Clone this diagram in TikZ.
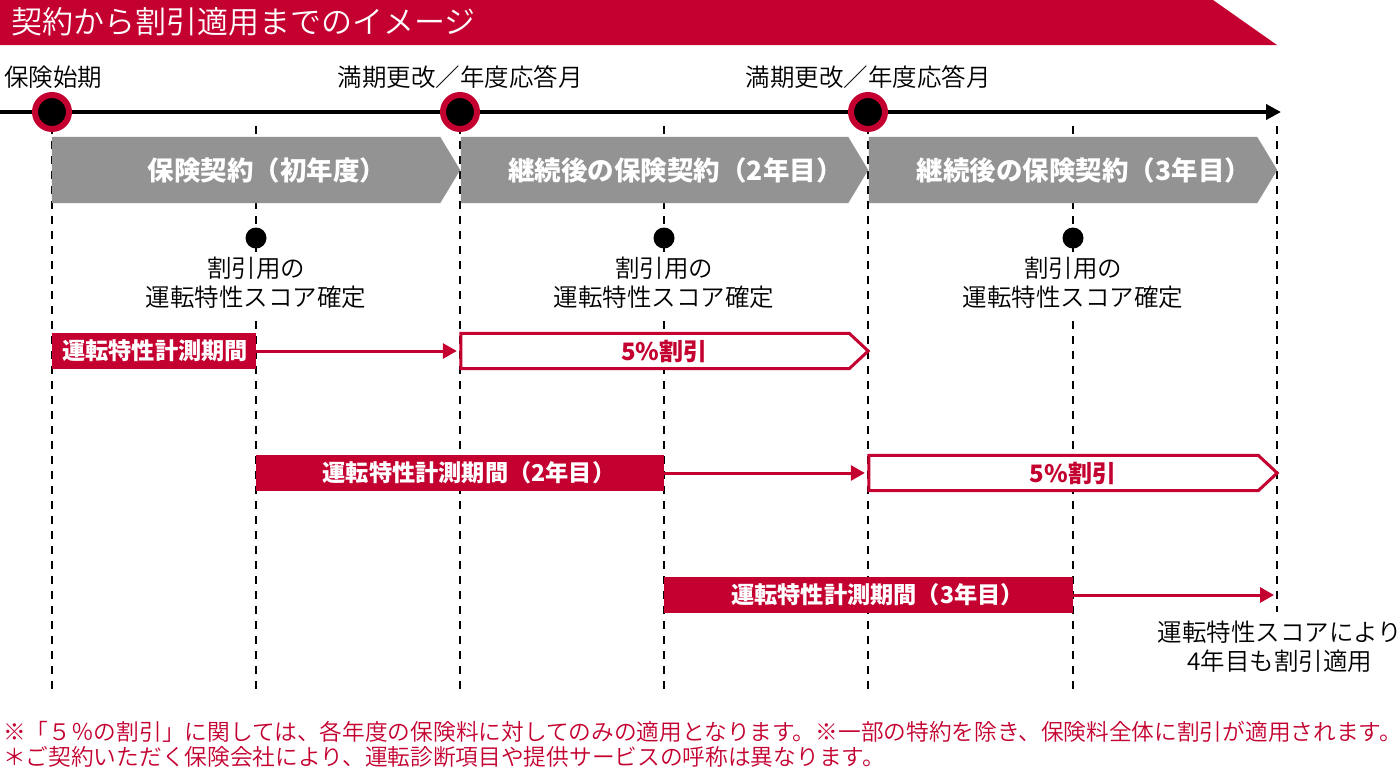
\documentclass[tikz,border=0pt]{standalone}
\usepackage{fontspec}
\setmainfont{Noto Sans CJK JP}
\IfFontExistsTF{Noto Sans CJK JP DemiLight}
  {\newfontfamily\lightjp{Noto Sans CJK JP DemiLight}}
  {\newfontfamily\lightjp{Noto Sans CJK JP}}
\usetikzlibrary{arrows.meta}
\definecolor{brand}{RGB}{196,0,48}
\definecolor{chevgray}{RGB}{147,147,147}
\pgfdeclarelayer{gridlayer}
\pgfdeclarelayer{shapelayer}
\pgfsetlayers{gridlayer,shapelayer,main}
\tikzset{
  titletext/.style={anchor=west,text=white,inner sep=0pt,font=\lightjp\fontsize{31}{31}\selectfont},
  lbl/.style={align=center,inner sep=0pt,font=\lightjp\fontsize{24.5}{29}\selectfont},
  scorelbl/.style={lbl,fill=white,inner xsep=2pt,inner ysep=5pt},
  foot/.style={anchor=west,inner sep=0pt,text=brand,font=\lightjp\fontsize{22.7}{26}\selectfont},
  gridline/.style={line width=1.8pt,dash pattern=on 8pt off 7pt},
  marker/.style={circle,fill=black,draw=brand,line width=6pt,minimum size=34pt,inner sep=0pt},
  fixdot/.style={circle,fill=black,minimum size=21pt,inner sep=0pt},
  chevbox/.style={minimum height=66pt,inner sep=0pt},
  chevtext/.style={inner sep=0pt,text=white,font=\bfseries\fontsize{26.5}{26.5}\selectfont},
  measbox/.style={fill=brand,minimum height=36pt,inner sep=0pt},
  meastext/.style={inner sep=0pt,text=white,font=\bfseries\fontsize{23.2}{23.2}\selectfont},
  disc/.style={minimum height=35pt,inner sep=0pt,text=brand,font=\bfseries\fontsize{24}{24}\selectfont},
  redarrow/.style={draw=brand,line width=3pt,-{Triangle[length=14pt,width=15pt]}},
}
\newcommand{\graychev}[1]{%
  \begin{pgfonlayer}{shapelayer}
  \fill[chevgray] (#1.north west) -- ([xshift=-20pt]#1.north east) -- (#1.east)
    -- ([xshift=-20pt]#1.south east) -- (#1.south west) -- cycle;
  \end{pgfonlayer}}
\newcommand{\outlinechev}[1]{%
  \begin{pgfonlayer}{shapelayer}
  \filldraw[fill=white,draw=brand,line width=3pt,line join=miter]
    (#1.north west) -- ([xshift=-19pt]#1.north east) -- (#1.east)
    -- ([xshift=-19pt]#1.south east) -- (#1.south west) -- cycle;
  \end{pgfonlayer}}
\begin{document}
\begin{tikzpicture}[x=1pt,y=-1pt]
\useasboundingbox (0,0) rectangle (1400,772);
\begin{pgfonlayer}{gridlayer}
\fill[white] (0,0) rectangle (1400,772);
\end{pgfonlayer}

% title banner
\fill[brand] (0,0) -- (1213,0) -- (1277,45) -- (0,45) -- cycle;
\node[titletext] (title) at (11,22) {契約から割引適用までのイメージ};

% dashed grid lines
\begin{pgfonlayer}{gridlayer}
\foreach \x/\n in {52/g0,256/g1,460/g2,664/g3,868/g4,1073/g5}{
  \coordinate (\n a) at (\x,126);
  \coordinate (\n b) at (\x,692);
  \draw[gridline] (\n a) -- (\n b);
}
\coordinate (g6a) at (1277,126);
\coordinate (g6b) at (1277,612);
\draw[gridline] (g6a) -- (g6b);
\end{pgfonlayer}

% timeline
\coordinate (tl0) at (0,112);
\coordinate (tl1) at (1281,112);
\draw[line width=4pt,-{Triangle[length=15pt,width=15pt]}] (tl0) -- (tl1);
\node[marker] (m0) at (52,112) {};
\node[marker] (m1) at (460,112) {};
\node[marker] (m2) at (868,112) {};
\node[lbl,anchor=west] (l0) at (4,77) {保険始期};
\node[lbl] (l1) at (460,77) {満期更改／年度応答月};
\node[lbl] (l2) at (868,77) {満期更改／年度応答月};

% contract chevrons
\node[chevbox,minimum width=408pt] (c1) at (256,170) {};
\graychev{c1}
\node[chevtext] (c1t) at ([xshift=11pt]c1.center) {保険契約（初年度）};
\node[chevbox,minimum width=407pt] (c2) at (664.5,170) {};
\graychev{c2}
\node[chevtext] (c2t) at ([xshift=11pt]c2.center) {継続後の保険契約（2年目）};
\node[chevbox,minimum width=408pt] (c3) at (1073,170) {};
\graychev{c3}
\node[chevtext] (c3t) at ([xshift=11pt]c3.center) {継続後の保険契約（3年目）};

% score fixing points
\node[fixdot] (d1) at (256,238) {};
\node[fixdot] (d2) at (664,238) {};
\node[fixdot] (d3) at (1073,238) {};
\node[scorelbl] (s1) at (256,283) {割引用の\\運転特性スコア確定};
\node[scorelbl] (s2) at (664,283) {割引用の\\運転特性スコア確定};
\node[scorelbl] (s3) at (1073,283) {割引用の\\運転特性スコア確定};

% row 1
\node[measbox,minimum width=204pt] (r1) at (154,351) {};
\node[meastext] (r1t) at ([xshift=1pt]r1.center) {運転特性計測期間};
\node[disc,minimum width=407pt] (o1) at (664.5,351) {5\%割引};
\outlinechev{o1}
\draw[redarrow,shorten >=4pt] (r1.east) -- (o1.west);

% row 2
\node[measbox,minimum width=408pt] (r2) at (460,473) {};
\node[meastext] (r2t) at ([xshift=9pt]r2.center) {運転特性計測期間（2年目）};
\node[disc,minimum width=408pt] (o2) at (1073,473) {5\%割引};
\outlinechev{o2}
\draw[redarrow,shorten >=4pt] (r2.east) -- (o2.west);

% row 3
\node[measbox,minimum width=409pt] (r3) at (868.5,595) {};
\node[meastext] (r3t) at ([xshift=9pt]r3.center) {運転特性計測期間（3年目）};
\coordinate (e3) at (1274,595);
\draw[redarrow] (r3.east) -- (e3);
\node[lbl] (n4) at (1280,647) {運転特性スコアにより\\4年目も割引適用};

% footnotes
\node[foot] (f1) at (3,732) {※「５％の割引」に関しては、各年度の保険料に対してのみの適用となります。※一部の特約を除き、保険料全体に割引が適用されます。};
\node[foot] (f2) at (3,757) {＊ご契約いただく保険会社により、運転診断項目や提供サービスの呼称は異なります。};
\end{tikzpicture}
\end{document}
